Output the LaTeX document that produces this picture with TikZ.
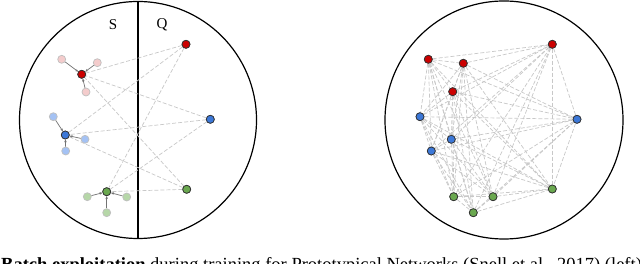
\documentclass[tikz,border=0pt]{standalone}
\usepackage{fontspec}
\setmainfont{Liberation Serif}
\usetikzlibrary{arrows.meta}
\definecolor{cred}{HTML}{CC0000}
\definecolor{cblue}{HTML}{3C78D8}
\definecolor{cgreen}{HTML}{6AA84F}
\definecolor{pred}{HTML}{F4CCCC}
\definecolor{pblue}{HTML}{A4C2F4}
\definecolor{pgreen}{HTML}{B6D7A8}
\definecolor{dashgray}{HTML}{C8C8C8}
\tikzset{
  pt/.style={circle,draw=black!80,line width=0.7pt,inner sep=0pt,minimum size=8pt},
  pale/.style={circle,draw=black!25,line width=0.7pt,inner sep=0pt,minimum size=8pt},
  dashe/.style={draw=dashgray,line width=0.7pt,dash pattern=on 4pt off 2pt},
  supp/.style={draw=black!55,line width=0.7pt,-{Stealth[length=3pt,width=2.5pt]}},
  border/.style={draw=black,line width=1.2pt},
  lbl/.style={font=\fontsize{15}{15}\selectfont,inner sep=0pt}
}
\begin{document}
\begin{tikzpicture}[x=1pt,y=-1pt]
\clip (0,0) rectangle (640,264);
\fill[white] (0,0) rectangle (640,264);
% ---------- left panel ----------
\node[circle,border,minimum size=237pt,inner sep=0pt] (lc) at (138,120) {};
\draw[line width=1.1pt] (lc.north) -- (lc.south);
\node[lbl] (S) at (113,25) {S};
\node[lbl] (Q) at (162,25) {Q};
% prototypes
\node[pt,fill=cred] (pr) at (81.7,74.3) {};
\node[pt,fill=cblue] (pb) at (65.3,135) {};
\node[pt,fill=cgreen] (pg) at (106.7,191.7) {};
% supports
\node[pale,fill=pred] (sr1) at (61.7,59.3) {};
\node[pale,fill=pred] (sr2) at (97.3,62.7) {};
\node[pale,fill=pred] (sr3) at (86,92) {};
\node[pale,fill=pblue] (sb1) at (53.3,116.7) {};
\node[pale,fill=pblue] (sb2) at (85,139.3) {};
\node[pale,fill=pblue] (sb3) at (65.7,151) {};
\node[pale,fill=pgreen] (sg1) at (87.3,196.7) {};
\node[pale,fill=pgreen] (sg2) at (126.7,197) {};
\node[pale,fill=pgreen] (sg3) at (106.7,212.7) {};
% queries
\node[pt,fill=cred] (qr) at (186,44.3) {};
\node[pt,fill=cblue] (qb) at (210.3,119.3) {};
\node[pt,fill=cgreen] (qg) at (186.7,189.3) {};
\foreach \q in {qr,qb,qg}{
  \foreach \p in {pr,pb,pg}{
    \draw[dashe] (\q) -- (\p);
  }
}
\foreach \s in {sr1,sr2,sr3}{\draw[supp] (\s) -- (pr);}
\foreach \s in {sb1,sb2,sb3}{\draw[supp] (\s) -- (pb);}
\foreach \s in {sg1,sg2,sg3}{\draw[supp] (\s) -- (pg);}
% redraw nodes on top
\foreach \n/\c in {pr/cred,pb/cblue,pg/cgreen,qr/cred,qb/cblue,qg/cgreen}{
  \node[pt,fill=\c] at (\n) {};
}
% ---------- right panel ----------
\node[circle,border,minimum size=238pt,inner sep=0pt] (rc) at (504,120) {};
\node[pt,fill=cred] (r1) at (428.3,59.3) {};
\node[pt,fill=cred] (r2) at (463.3,63.3) {};
\node[pt,fill=cred] (r3) at (452.7,91.7) {};
\node[pt,fill=cred] (r4) at (552.3,44.3) {};
\node[pt,fill=cblue] (r5) at (420,116.7) {};
\node[pt,fill=cblue] (r6) at (451.3,139.3) {};
\node[pt,fill=cblue] (r7) at (431.3,151) {};
\node[pt,fill=cblue] (r8) at (577,119.3) {};
\node[pt,fill=cgreen] (r9) at (453.7,196.7) {};
\node[pt,fill=cgreen] (r10) at (493,196.7) {};
\node[pt,fill=cgreen] (r11) at (473.3,212.7) {};
\node[pt,fill=cgreen] (r12) at (552.3,189) {};
\foreach \i in {1,...,11}{
  \pgfmathtruncatemacro{\j}{\i+1}
  \foreach \k in {\j,...,12}{
    \draw[dashe] (r\i) -- (r\k);
  }
}
\foreach \i/\c in {1/cred,2/cred,3/cred,4/cred,5/cblue,6/cblue,7/cblue,8/cblue,9/cgreen,10/cgreen,11/cgreen,12/cgreen}{
  \node[pt,fill=\c] at (r\i) {};
}
% ---------- caption ----------
\node[anchor=base west,inner sep=0pt,font=\fontsize{18.5}{19}\selectfont] (cap) at (1,271)
  {\textbf{Batch exploitation} during training for Prototypical Networks (Snell et al., 2017) (left)};
\end{tikzpicture}
\end{document}
